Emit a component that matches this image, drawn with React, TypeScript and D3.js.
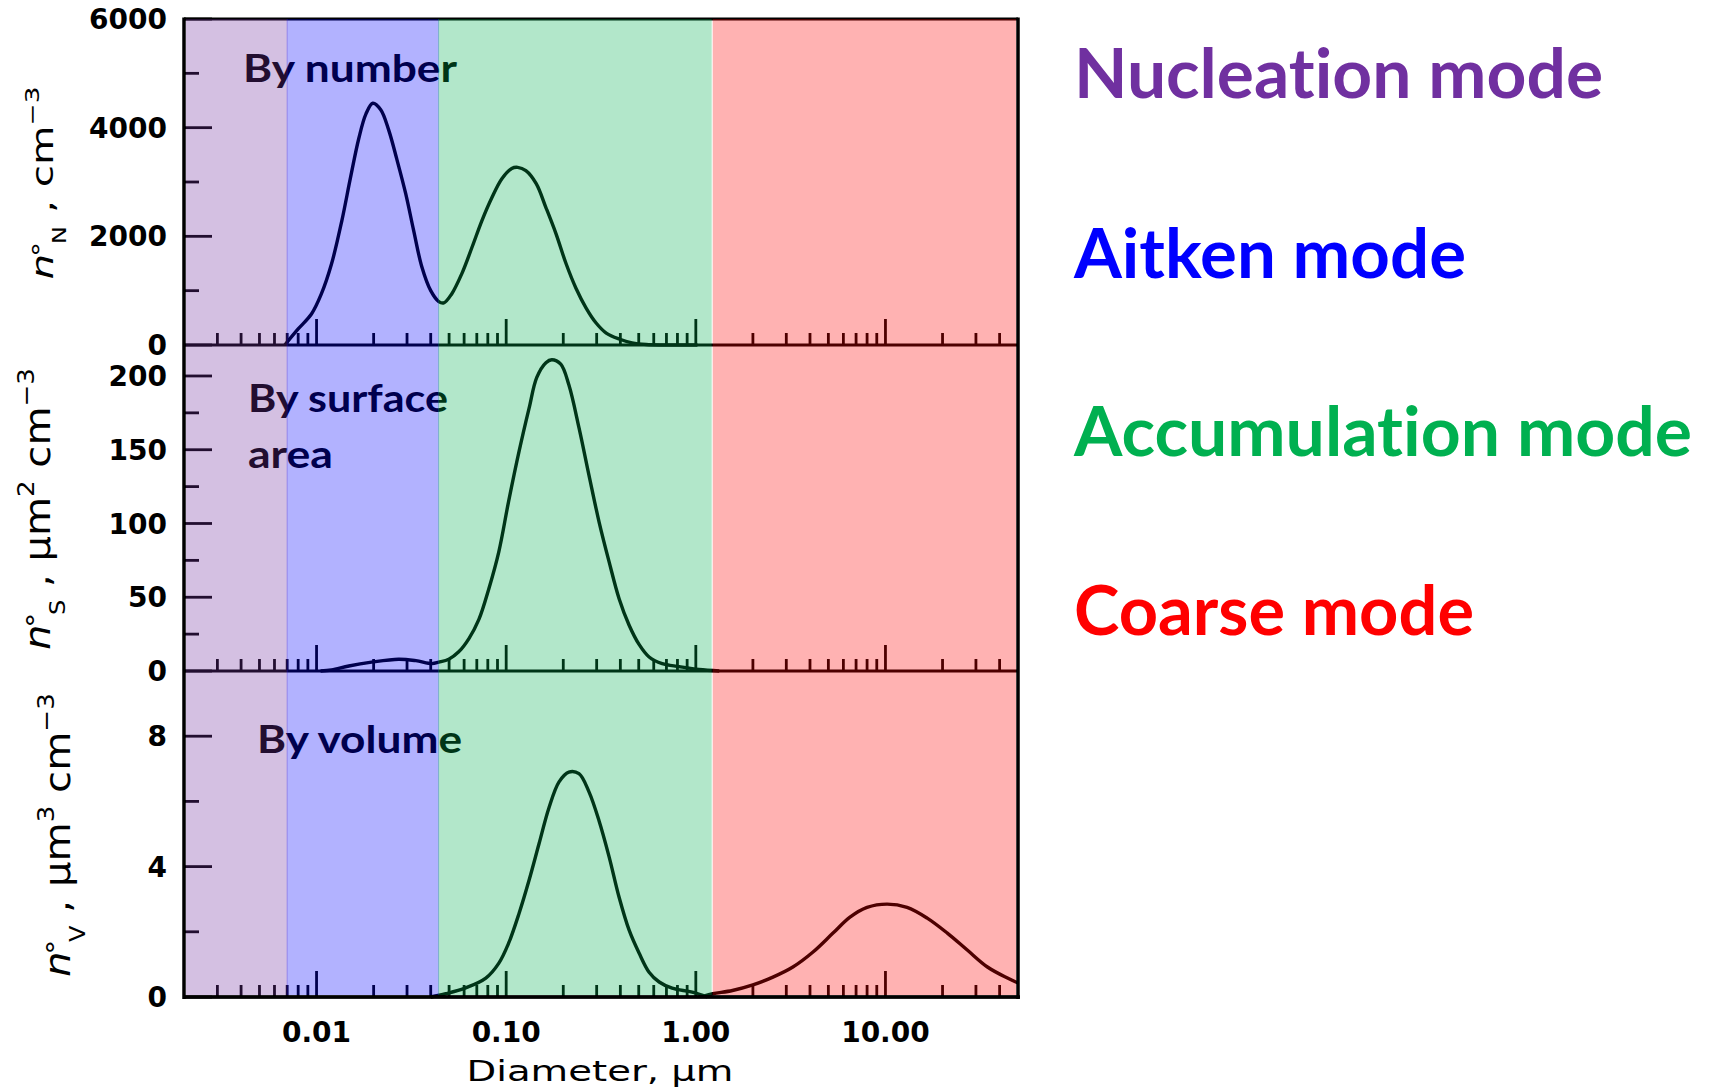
import { useLayoutEffect, useRef } from 'react';
import * as d3 from 'd3';

// aerosol modes, bin edges in µm
const modeNames = ['Nucleation mode', 'Aitken mode', 'Accumulation mode', 'Coarse mode'];
const modeColors = ['#7030A0', '#0000FF', '#00B050', '#FF0000'];
const modeEdges = [0.002, 0.007, 0.044, 1.22, 50];

const xTickValues = [0.01, 0.1, 1, 10];
const xTickLabels = ['0.01', '0.10', '1.00', '10.00'];

const numberTicks = [0, 2000, 4000, 6000];
const numberMinor = [1000, 3000, 5000];
const surfaceTicks = [0, 50, 100, 150, 200];
const surfaceMinor = [25, 75, 125, 175];
const volumeTicks = [0, 4, 8];
const volumeMinor = [2, 6];

// by number (cm^-3)
const numberDiam = [0.0068, 0.008, 0.0094, 0.0106, 0.012, 0.0136, 0.0151, 0.0167, 0.0182, 0.0198, 0.0218, 0.024, 0.0265, 0.0295, 0.0325, 0.0359, 0.04, 0.0441, 0.0469, 0.0516, 0.0583, 0.0659, 0.0745, 0.084, 0.0949, 0.107, 0.115, 0.127, 0.144, 0.162, 0.183, 0.207, 0.233, 0.264, 0.298, 0.337, 0.394, 0.461, 0.547, 1.02];
const numberConc = [0, 295, 570, 940, 1495, 2290, 3080, 3800, 4250, 4450, 4330, 3960, 3420, 2790, 2110, 1440, 1000, 800, 775, 940, 1310, 1790, 2290, 2710, 3060, 3250, 3270, 3210, 2970, 2530, 2050, 1495, 1050, 680, 405, 220, 110, 40, 10, 0];

// by surface area (µm² cm^-3)
const surfaceDiam = [0.0105, 0.012, 0.0148, 0.0195, 0.0271, 0.0334, 0.0406, 0.0441, 0.0498, 0.0562, 0.0636, 0.0718, 0.0811, 0.0915, 0.103, 0.117, 0.132, 0.145, 0.162, 0.174, 0.194, 0.214, 0.242, 0.273, 0.309, 0.349, 0.394, 0.445, 0.502, 0.567, 0.665, 0.817, 1.04, 1.33];
const surfaceConc = [0, 0.7, 3.4, 6, 8, 7, 5, 6, 8, 13, 22, 35, 56, 81, 115, 149, 178, 199, 209, 211, 208, 194, 165, 133, 101, 74, 49, 31, 18, 9.5, 5, 3, 1, 0];

// by volume (µm³ cm^-3), fine and coarse
const volumeFineDiam = [0.04, 0.048, 0.0612, 0.0781, 0.0915, 0.103, 0.117, 0.132, 0.149, 0.168, 0.19, 0.214, 0.242, 0.273, 0.309, 0.349, 0.394, 0.445, 0.502, 0.567, 0.641, 0.75, 0.957, 1.15];
const volumeFineConc = [0, 0.1, 0.28, 0.58, 1.04, 1.65, 2.57, 3.58, 4.7, 5.8, 6.6, 6.9, 6.85, 6.3, 5.4, 4.3, 3.06, 2.05, 1.35, 0.76, 0.46, 0.27, 0.15, 0];
const volumeCoarseDiam = [1.1, 1.23, 1.56, 2.0, 2.55, 3.25, 4.15, 5.29, 6.5, 8.0, 10.2, 13.0, 16.6, 21.2, 27.0, 34.5, 44.0, 50];
const volumeCoarseConc = [0.03, 0.1, 0.2, 0.37, 0.61, 0.92, 1.38, 1.96, 2.45, 2.75, 2.85, 2.75, 2.42, 1.96, 1.44, 0.92, 0.58, 0.43];

const W = 1712;
const H = 1088;
const left = 184;
const right = 1018;
const top = 19;
const panelH = 326;

const tickFont = 'DejaVu Sans, sans-serif';
const calibri = 'Lato, Open Sans, sans-serif';

const x = d3.scaleLog().domain([0.002, 50]).range([left, right]);

type Part = { t: string; pos?: 'sup' | 'sub' | 'ring'; italic?: boolean };

const panels = [
  {
    max: 6000, ticks: numberTicks, minor: numberMinor,
    series: [[numberDiam, numberConc]],
    titles: [{ t: 'By number', x: 243, y: 82, w: 214 }],
    label: { cx: 53, cy: 183, size: 31, len: 193, parts: [{ t: 'n', italic: true }, { t: '°', pos: 'ring' }, { t: 'N', pos: 'sub' }, { t: ' ,  cm' }, { t: '−3', pos: 'sup' }] as Part[] },
  },
  {
    max: 221, ticks: surfaceTicks, minor: surfaceMinor,
    series: [[surfaceDiam, surfaceConc]],
    titles: [{ t: 'By surface', x: 248, y: 412, w: 200 }, { t: 'area', x: 248, y: 468, w: 85 }],
    label: { cx: 50, cy: 509, size: 36, len: 282, parts: [{ t: 'n', italic: true }, { t: '°', pos: 'ring' }, { t: 'S', pos: 'sub' }, { t: ' ,  µm' }, { t: '2', pos: 'sup' }, { t: '  cm' }, { t: '−3', pos: 'sup' }] as Part[] },
  },
  {
    max: 10, ticks: volumeTicks, minor: volumeMinor,
    series: [[volumeFineDiam, volumeFineConc], [volumeCoarseDiam, volumeCoarseConc]],
    titles: [{ t: 'By volume', x: 257, y: 753, w: 205 }],
    label: { cx: 70, cy: 835, size: 36, len: 284, parts: [{ t: 'n', italic: true }, { t: '°', pos: 'ring' }, { t: 'V', pos: 'sub' }, { t: ' ,  µm' }, { t: '3', pos: 'sup' }, { t: '  cm' }, { t: '−3', pos: 'sup' }] as Part[] },
  },
];

function RotLabel({ cx, cy, size, len, parts }: { cx: number; cy: number; size: number; len: number; parts: Part[] }) {
  const ref = useRef<SVGTextElement>(null);
  useLayoutEffect(() => {
    if (!ref.current) return;
    const w = ref.current.getBBox().width;
    d3.select(ref.current).attr('transform', `scale(${len / w},1)`);
  }, [len]);
  let level = 0;
  return (
    <g transform={`translate(${cx},${cy}) rotate(-90)`}>
      <text ref={ref} textAnchor="middle" fontFamily={tickFont} fontSize={size} fill="#000">
        {parts.map((p, i) => {
          let target = 0;
          let fs = size;
          let dx = 0;
          if (p.pos === 'sup') { target = -size * 0.45; fs = size * 0.65; }
          if (p.pos === 'sub') { target = size * 0.42; fs = size * 0.6; dx = -size * 0.06; }
          if (p.pos === 'ring') { target = -size * 0.12; fs = size * 0.75; dx = -size * 0.08; }
          const dy = target - level;
          level = target;
          return (
            <tspan key={i} dx={dx} dy={dy} fontSize={fs} fontStyle={p.italic ? 'italic' : 'normal'}>{p.t}</tspan>
          );
        })}
      </text>
    </g>
  );
}

export default function App() {
  const ys = panels.map((p, i) =>
    d3.scaleLinear().domain([0, p.max]).range([top + (i + 1) * panelH, top + i * panelH])
  );
  const line = (y: d3.ScaleLinear<number, number>) =>
    d3.line<number[]>().x(d => x(d[0])).y(d => y(d[1])).curve(d3.curveCatmullRom.alpha(0.5));

  const xTicks = x.ticks().filter(v => v > 0.002 && v < 50);
  const isMajor = (v: number) => Math.abs(Math.log10(v) - Math.round(Math.log10(v))) < 1e-6;

  const bottom = top + 3 * panelH;
  const e = modeEdges.map(v => x(v));
  const starts = [left + 2, e[1] - 0.5, e[2] - 0.5, e[3] + 0.5];
  const ends = [e[1] + 0.5, e[2] + 0.5, e[3] - 0.5, right - 2];

  return (
    <svg width={W} height={H} style={{ position: 'absolute', left: 0, top: 0, background: '#fff' }}>
      <rect width={W} height={H} fill="#fff" />

      {panels.map((p, i) => {
        const y = ys[i];
        const base = y(0);
        return (
          <g key={i}>
            {/* x ticks along each panel's baseline */}
            {xTicks.map(v => (
              <line key={v} x1={x(v)} x2={x(v)} y1={base} y2={base - (isMajor(v) ? 26 : 12)} stroke="#000" strokeWidth={2.8} />
            ))}
            {/* y ticks */}
            {p.ticks.map(v => (
              <line key={'t' + v} x1={left} x2={left + 28} y1={y(v)} y2={y(v)} stroke="#000" strokeWidth={2.8} />
            ))}
            {p.minor.map(v => (
              <line key={'m' + v} x1={left} x2={left + 15} y1={y(v)} y2={y(v)} stroke="#000" strokeWidth={2.8} />
            ))}
            {p.ticks.map(v => (
              <text key={'l' + v} x={167} y={y(v)} dy="0.36em" textAnchor="end" fontFamily={tickFont} fontWeight="bold" fontSize={28} fill="#000">{v}</text>
            ))}
            {/* curves */}
            {p.series.map((s, j) => (
              <path key={j} d={line(y)(s[0].map((d, k) => [d, s[1][k]])) || ''} fill="none" stroke="#000" strokeWidth={3.4} />
            ))}
            {/* panel baseline */}
            <line x1={left} x2={right} y1={base} y2={base} stroke="#000" strokeWidth={3.2} />
            {p.titles.map(t => (
              <text key={t.t} x={t.x} y={t.y} fontFamily={calibri} fontWeight="bold" fontSize={38} textLength={t.w} lengthAdjust="spacingAndGlyphs" fill="#000" style={{ fontVariantLigatures: 'none' }}>{t.t}</text>
            ))}
            <RotLabel {...p.label} />
          </g>
        );
      })}

      {/* top border under the overlays */}
      <line x1={left} x2={right} y1={top} y2={top} stroke="#000" strokeWidth={3} />

      {/* mode overlays */}
      {modeColors.map((c, i) => (
        <rect key={c} x={starts[i]} y={top} width={ends[i] - starts[i]} height={bottom - top - 2} fill={c} fillOpacity={0.3} />
      ))}

      {/* frame */}
      <line x1={left} x2={left} y1={top - 1.5} y2={bottom + 2} stroke="#000" strokeWidth={3.5} />
      <line x1={left} x2={right + 2} y1={bottom} y2={bottom} stroke="#000" strokeWidth={3.5} />
      <line x1={right} x2={right} y1={top - 1.5} y2={bottom + 2} stroke="#000" strokeWidth={3.5} />

      {/* x tick labels */}
      {xTickValues.map((v, i) => (
        <text key={v} x={x(v)} y={1042} textAnchor="middle" fontFamily={tickFont} fontWeight="bold" fontSize={28} fill="#000">{xTickLabels[i]}</text>
      ))}
      <text x={600} y={1081} textAnchor="middle" fontFamily={tickFont} fontSize={29} textLength={267} lengthAdjust="spacingAndGlyphs" fill="#000">Diameter,  µm</text>

      {/* mode names */}
      {modeNames.map((m, i) => (
        <text key={m} x={1074} y={[98, 278, 456, 635][i]} fontFamily={calibri} fontWeight="bold" fontSize={68} fill={modeColors[i]} textLength={[529, 392, 618, 400][i]} lengthAdjust="spacingAndGlyphs" style={{ fontVariantLigatures: 'none' }}>{m}</text>
      ))}
    </svg>
  );
}
